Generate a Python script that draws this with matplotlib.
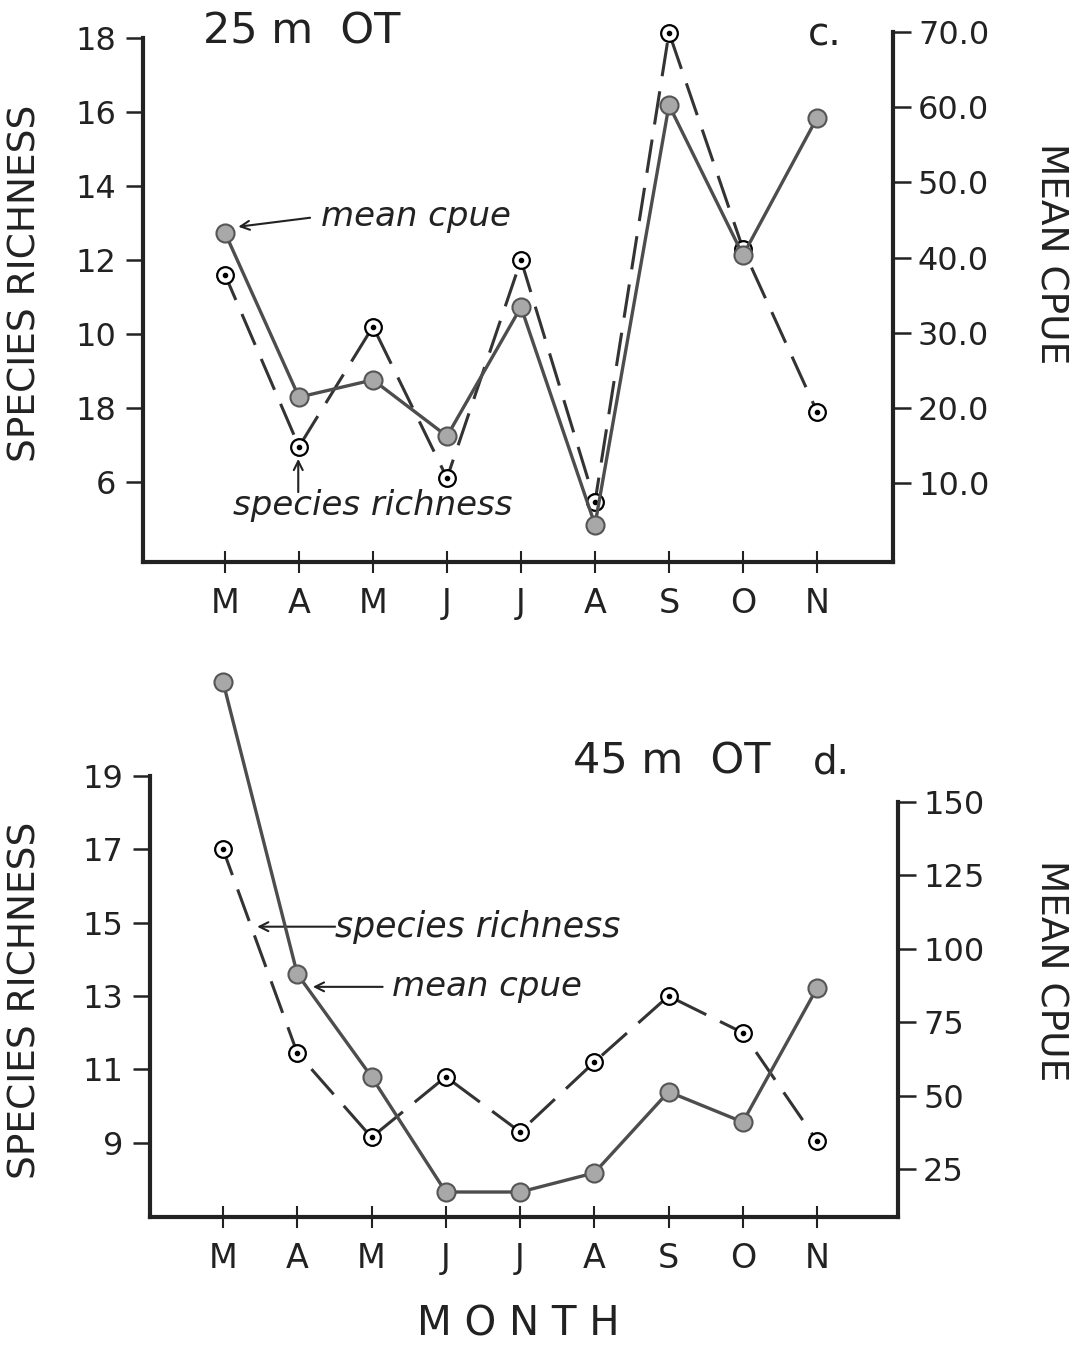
import matplotlib.pyplot as plt

plt.rcParams['font.family'] = ['DejaVu Sans']

months = ["M", "A", "M", "J", "J", "A", "S", "O", "N"]

# panel c, 25 m OT
rich_25 = [11.6, 6.95, 10.2, 6.1, 12.0, 5.45, 18.15, 12.3, 7.9]
cpue_25 = [43.3, 21.4, 23.7, 16.2, 33.4, 4.4, 60.3, 40.3, 58.6]

# panel d, 45 m OT
rich_45 = [17.0, 11.45, 9.15, 10.8, 9.3, 11.2, 13.0, 12.0, 9.05]
cpue_45 = [190.8, 91.4, 56.4, 17.2, 17.2, 23.7, 51.3, 41.0, 86.6]

left_ticks_25 = [18, 16, 14, 12, 10, 8, 6]
left_labels_25 = ["18", "16", "14", "12", "10", "18", "6"]   # "18" at 8 as printed
right_ticks_25 = [70, 60, 50, 40, 30, 20, 10]
right_labels_25 = ["70.0", "60.0", "50.0", "40.0", "30.0", "20.0", "10.0"]

left_ticks_45 = [19, 17, 15, 13, 11, 9]
right_ticks_45 = [150, 125, 100, 75, 50, 25]

INK = "#222222"
W, H = 1084, 1347


def px_rect(x0, y0, x1, y1):
    """pixel box (top-left origin) -> figure fraction rect"""
    return [x0 / W, 1 - y1 / H, (x1 - x0) / W, (y1 - y0) / H]


def draw_panel(fig, rect, xlim, ylim_l, ylim_r, rich, cpue,
               lticks, llabels, rticks, rlabels):
    ax = fig.add_axes(rect)
    ax2 = ax.twinx()
    x = list(range(len(months)))

    ax.set_xlim(xlim)
    ax.set_ylim(ylim_l)
    ax2.set_ylim(ylim_r)

    # species richness: long dashes, open circle with a dot
    ax.plot(x, rich, color="#333333", lw=2.2, ls=(2, (11, 5)),
            marker="o", ms=12, mfc="white", mec="black", mew=1.6,
            clip_on=False, zorder=3)
    ax.plot(x, rich, ls="none", marker="o", ms=3, color="black",
            clip_on=False, zorder=4)

    # mean cpue: solid, filled grey circles
    ax2.plot(x, cpue, color="#4d4d4d", lw=2.4, marker="o", ms=13,
             mfc="#a8a8a8", mec="#555555", mew=1.5, clip_on=False, zorder=3)

    for s in ["top", "right"]:
        ax.spines[s].set_visible(False)
    for s in ["top", "left", "bottom"]:
        ax2.spines[s].set_visible(False)
    for sp in [ax.spines["left"], ax.spines["bottom"], ax2.spines["right"]]:
        sp.set_linewidth(3)
        sp.set_color(INK)
    ax.spines["left"].set_bounds(ylim_l[0], lticks[0])
    ax2.spines["right"].set_bounds(ylim_r[0], rticks[0])

    ax.set_xticks(x)
    ax.set_xticklabels(months)
    ax.set_yticks(lticks)
    ax.set_yticklabels(llabels)
    ax2.set_yticks(rticks)
    ax2.set_yticklabels(rlabels)

    ax.tick_params(axis="x", direction="inout", length=16, width=1.5,
                   pad=10, labelsize=24, color=INK, labelcolor=INK)
    ax.tick_params(axis="y", direction="out", length=12, width=1.8,
                   pad=7, labelsize=23, color=INK, labelcolor=INK)
    ax2.tick_params(axis="y", direction="out", length=13, width=1.8,
                    pad=5, labelsize=23, color=INK, labelcolor=INK)
    return ax, ax2


def arrow(ax, head, tail):
    ax.annotate("", xy=head, xytext=tail,
                arrowprops=dict(arrowstyle="->", lw=1.5, color=INK,
                                shrinkA=0, shrinkB=0, mutation_scale=16))


fig = plt.figure(figsize=(W / 100, H / 100), dpi=100)

# ---- top panel (c) ----
ax_c, ax_c2 = draw_panel(fig, px_rect(143, 30, 893, 562), (-1.108, 9.027),
                         (3.83, 18.22), (-0.56, 70.31), rich_25, cpue_25,
                         left_ticks_25, left_labels_25,
                         right_ticks_25, right_labels_25)
ax_c2.text(1.3, 45.5, "mean cpue", style="italic", fontsize=24.5,
           ha="left", va="center", color=INK)
arrow(ax_c2, (0.18, 44.1), (1.15, 45.3))
ax_c.text(2.0, 5.37, "species richness", style="italic", fontsize=24.5,
          ha="center", va="center", color=INK)
arrow(ax_c, (0.99, 6.62), (0.99, 5.72))

fig.text(203 / W, 1 - 43 / H, "25 m  OT", fontsize=31, ha="left",
         va="baseline", color=INK)
fig.text(808 / W, 1 - 45 / H, "c.", fontsize=28, ha="left",
         va="baseline", color=INK)

# ---- bottom panel (d) ----
ax_d, ax_d2 = draw_panel(fig, px_rect(150, 665, 898, 1217), (-0.983, 9.09),
                         (6.98, 22.02), (8.7, 196.5), rich_45, cpue_45,
                         left_ticks_45, [str(v) for v in left_ticks_45],
                         right_ticks_45, [str(v) for v in right_ticks_45])
ax_d.text(1.51, 14.89, "species richness", style="italic", fontsize=25,
          ha="left", va="center", color=INK)
arrow(ax_d, (0.46, 14.89), (1.51, 14.89))
ax_d2.text(2.28, 87.0, "mean cpue", style="italic", fontsize=24.5,
           ha="left", va="center", color=INK)
arrow(ax_d2, (1.21, 87.0), (2.15, 87.0))

fig.text(573 / W, 1 - 773 / H, "45 m  OT", fontsize=31, ha="left",
         va="baseline", color=INK)
fig.text(813 / W, 1 - 773 / H, "d.", fontsize=28, ha="left",
         va="baseline", color=INK)

# axis titles
for yc in [283, 1000]:
    fig.text(26 / W, 1 - yc / H, "SPECIES RICHNESS", rotation=90,
             fontsize=27, ha="center", va="center", color=INK)
for yc in [254, 971]:
    fig.text(1051 / W, 1 - yc / H, "MEAN CPUE", rotation=-90,
             fontsize=27, ha="center", va="center", color=INK)
fig.text(518 / W, 1 - 1325 / H, "M O N T H", fontsize=29,
         ha="center", va="center", color=INK)

fig.savefig("out.png", dpi=100)
